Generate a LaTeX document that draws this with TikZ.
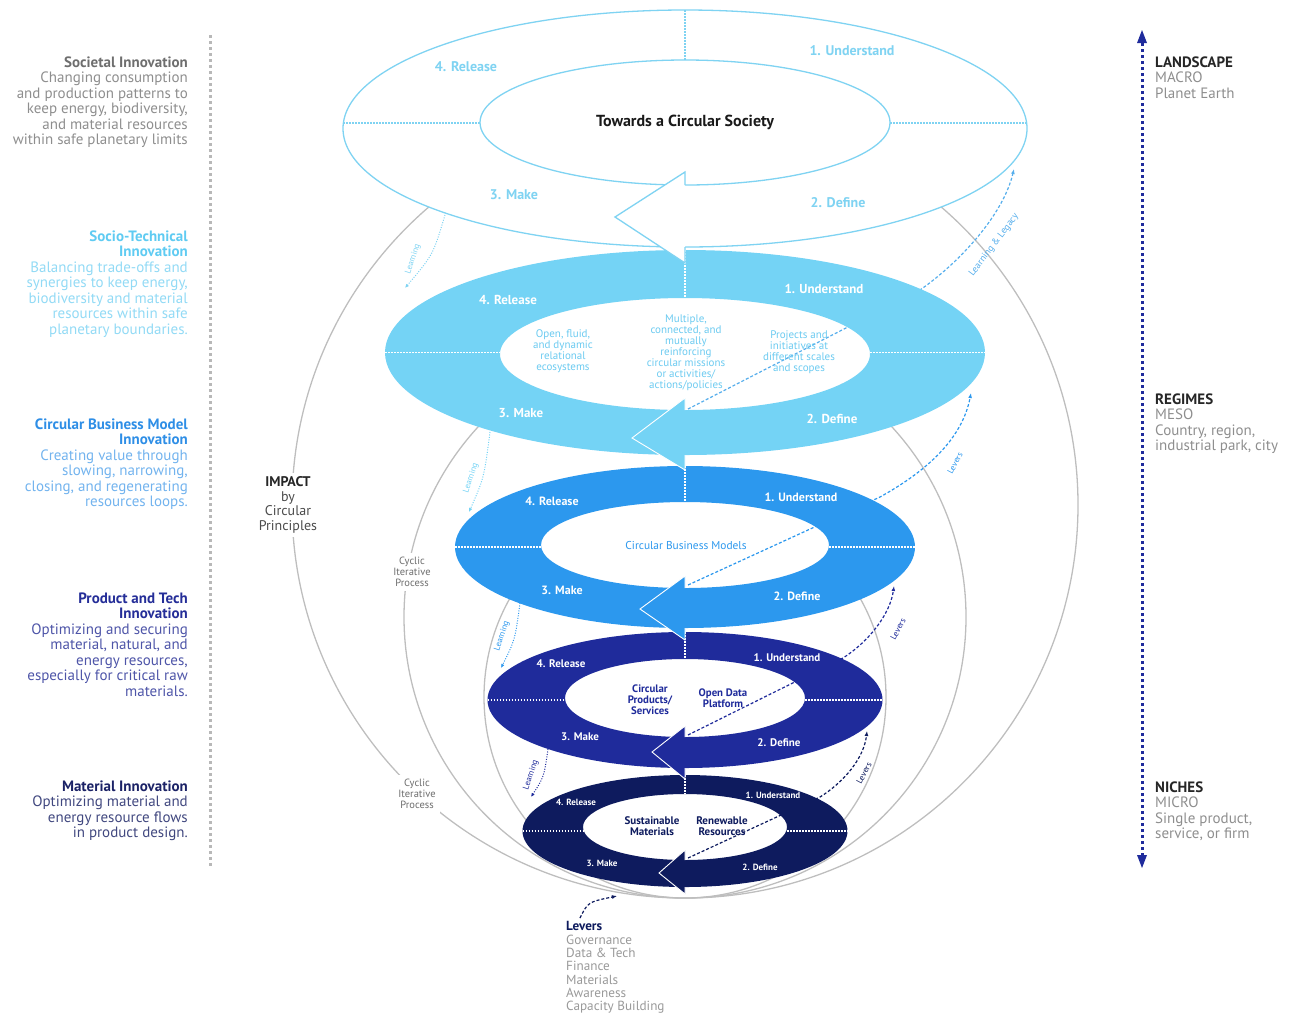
\documentclass[tikz,border=0pt]{standalone}
\usepackage{fontspec}
\setmainfont{PT Sans}
\usetikzlibrary{arrows.meta, positioning, calc}
\definecolor{ringA}{HTML}{7FD3F2}
\definecolor{ringB}{HTML}{74D3F5}
\definecolor{ringC}{HTML}{2C98EE}
\definecolor{ringD}{HTML}{1F2B9B}
\definecolor{ringE}{HTML}{0E1B5E}
\definecolor{holeB}{HTML}{6CCBF1}
\definecolor{lvrB}{HTML}{56AEEC}
\definecolor{arcgray}{HTML}{BEBEBE}
\definecolor{dotgray}{HTML}{B8B8B8}
\definecolor{headgray}{HTML}{6E6E6E}
\definecolor{bodygray}{HTML}{8E8E8E}
\definecolor{techhead}{HTML}{5FCBF2}
\definecolor{techbody}{HTML}{92DAF5}
\definecolor{cbmhead}{HTML}{2E8EE6}
\definecolor{cbmbody}{HTML}{72B3EE}
\definecolor{prodhead}{HTML}{252E98}
\definecolor{prodbody}{HTML}{4E55A8}
\definecolor{mathead}{HTML}{1B2266}
\definecolor{matbody}{HTML}{41487F}
\definecolor{axisnavy}{HTML}{1F2B9C}
\newcommand{\fsz}[2]{\fontsize{#1}{#2}\selectfont}

\begin{document}
\begin{tikzpicture}[x=1pt, y=-1pt,
    arcline/.style={arcgray, line width=1.3pt},
    gaplbl/.style={fill=white, inner sep=4pt, align=center, text=headgray, font=\fsz{10.5}{11}},
    sidetxt/.style={inner sep=0pt, align=right, anchor=north east, font=\fsz{15}{15.5}},
    scaletxt/.style={inner sep=0pt, align=left, anchor=north west, font=\fsz{15}{15.5}, text=bodygray},
    ringlbl/.style={font=\bfseries\fsz{#1}{#1}, text=white, inner sep=0pt},
    holelbl/.style={align=center, inner sep=0pt},
    sepline/.style={white, line width=1.5pt, dash pattern=on 1.5pt off 1.5pt},
    lrnarrow/.style={line width=1pt, dash pattern=on 1pt off 1.5pt, -{Latex[length=4pt, width=3.5pt]}},
    lvrarrow/.style={line width=1.2pt, dash pattern=on 3pt off 2pt, -{Latex[length=5pt, width=4pt]}},
    tinylbl/.style={font=\fsz{8.5}{8.5}, inner sep=0pt}]
  \useasboundingbox (0,0) rectangle (1289,1013);

  % nested grey circles, all touching at the bottom
  \draw[arcline] (685,505) circle [radius=393];
  \draw[arcline] (685,617) circle [radius=281];
  \draw[arcline] (685,697) circle [radius=201];
  \node[gaplbl, font=\fsz{14}{14.7}, text=black!70] (impact) at (288,505)
    {\textbf{\color{black!85}IMPACT}\\by\\Circular\\Principles};
  \node[gaplbl] (cycup) at (412,572) {Cyclic\\Iterative\\Process};
  \node[gaplbl] (cyclow) at (417,794) {Cyclic\\Iterative\\Process};

  % clear the top ellipse and the holes
  \fill[white] (685,128.5) ellipse [x radius=342, y radius=118.5];
  \foreach \ci/\ai/\bi in {354/185/56, 545/144/43, 698/120/39, 827/102/33}
    \fill[white] (685,\ci) ellipse [x radius=\ai, y radius=\bi];

  % levers: from each notch out to the level above
  \coordinate (nB) at (688,409); \coordinate (xB) at (920,290); \coordinate (tA) at (1014,169);
  \coordinate (nC) at (688,585); \coordinate (xC) at (880,497); \coordinate (tB) at (971,393);
  \coordinate (nD) at (688,735); \coordinate (xD) at (843,658); \coordinate (tC) at (894,586);
  \coordinate (nE) at (688,858); \coordinate (xE) at (820,797); \coordinate (tD) at (867,731);
  \draw[lvrarrow, lvrB] (nB) -- (xB) .. controls (960,262) and (1003,215) .. (tA);
  \draw[lvrarrow, ringC] (nC) -- (xC) .. controls (925,472) and (962,440) .. (tB);
  \draw[lvrarrow, ringD] (nD) -- (xD) .. controls (868,642) and (890,615) .. (tC);
  \draw[lvrarrow, ringE] (nE) -- (xE) .. controls (844,782) and (864,758) .. (tD);
  \node[tinylbl, font=\fsz{9.5}{9.5}, text=lvrB, rotate=53] (legacy) at (994,245) {Learning \& Legacy};
  \node[tinylbl, text=ringC, rotate=62] (lvC) at (955,463) {Levers};
  \node[tinylbl, text=ringD, rotate=62] (lvD) at (898,629) {Levers};
  \node[tinylbl, text=ringE, rotate=62] (lvE) at (864,773) {Levers};

  % learning: from each level down to the next
  \coordinate (lA0) at (445,215); \coordinate (lA1) at (405,288);
  \coordinate (lB0) at (490,432); \coordinate (lB1) at (469,512);
  \coordinate (lC0) at (520,603); \coordinate (lC1) at (501,668);
  \coordinate (lD0) at (548,749); \coordinate (lD1) at (531,797);
  \draw[lrnarrow, ringA] (lA0) .. controls (433,255) .. (lA1);
  \draw[lrnarrow, ringB] (lB0) .. controls (484,478) .. (lB1);
  \draw[lrnarrow, ringC] (lC0) .. controls (515,640) .. (lC1);
  \draw[lrnarrow, ringD] (lD0) .. controls (544,777) .. (lD1);
  \node[tinylbl, text=ringA, rotate=72] (lrnA) at (413,259) {Learning};
  \node[tinylbl, text=ringB, rotate=72] (lrnB) at (471,478) {Learning};
  \node[tinylbl, text=ringC, rotate=72] (lrnC) at (502,636) {Learning};
  \node[tinylbl, text=ringD, rotate=72] (lrnD) at (531,775) {Learning};

  % societal level, outline only
  \draw[ringA, line width=1.3pt] (685,128.5) ellipse [x radius=342, y radius=118.5];
  \draw[ringA, line width=1.3pt] (685,122.5) ellipse [x radius=205, y radius=62.5];
  \draw[ringA, line width=1.2pt, dash pattern=on 1.5pt off 1.5pt]
    (685,10) -- (685,60) (343,123) -- (480,123) (890,123) -- (1027,123);

  % filled rings
  \foreach \col/\co/\ao/\bo/\ci/\ai/\bi in {ringB/352.5/300/102.5/354/185/56,
      ringC/547/230/81/545/144/43, ringD/700/197.5/68/698/120/39, ringE/831/162.5/56/827/102/33}{
    \fill[\col, even odd rule] (685,\co) ellipse [x radius=\ao, y radius=\bo]
      (685,\ci) ellipse [x radius=\ai, y radius=\bi];
    \draw[sepline] (685,\co-\bo) -- (685,\ci-\bi);
    \draw[sepline] (685-\ao,\co) -- (685-\ai,\co) (685+\ai,\co) -- (685+\ao,\co);
  }

  % arrow heads
  \fill[white] (685,172) -- (615,217) -- (685,263) -- cycle;
  \draw[ringA, line width=1.3pt, line join=miter] (685,185) -- (685,172) -- (615,217) -- (685,263) -- (685,247);
  \foreach \col/\ib/\ob/\ht/\hb/\tx/\ty in {ringB/410/455/398/470/632/438,
      ringC/588/628/576/640/640/609, ringD/737/768/726/779/652/752, ringE/860/887/850/894/659/873}{
    \fill[\col] (685,\ht) -- (\tx,\ty) -- (685,\hb) -- cycle;
    \draw[white, line width=0.9pt] (685,\ib) -- (685,\ht) -- (\tx,\ty) -- (685,\hb) -- (685,\ob);
  }

  % ring labels
  \node[ringlbl=14, text=ringA] (relA) at (466,67) {4. Release};
  \node[ringlbl=14, text=ringA] (undA) at (852,51) {1. Understand};
  \node[ringlbl=14, text=ringA] (mkA) at (514,195) {3. Make};
  \node[ringlbl=14, text=ringA] (defA) at (838,203) {2. Define};
  \node[ringlbl=13] (relB) at (508,300) {4. Release};
  \node[ringlbl=13] (undB) at (824,289) {1. Understand};
  \node[ringlbl=13] (mkB) at (521,413) {3. Make};
  \node[ringlbl=13] (defB) at (832,419) {2. Define};
  \node[ringlbl=12] (relC) at (552,501) {4. Release};
  \node[ringlbl=12] (undC) at (801,497) {1. Understand};
  \node[ringlbl=12] (mkC) at (562,590) {3. Make};
  \node[ringlbl=12] (defC) at (797,596) {2. Define};
  \node[ringlbl=11] (relD) at (561,664) {4. Release};
  \node[ringlbl=11] (undD) at (787,658) {1. Understand};
  \node[ringlbl=11] (mkD) at (580,737) {3. Make};
  \node[ringlbl=11] (defD) at (779,743) {2. Define};
  \node[ringlbl=9] (relE) at (576,802) {4. Release};
  \node[ringlbl=9] (undE) at (773,795) {1. Understand};
  \node[ringlbl=9] (mkE) at (602,863) {3. Make};
  \node[ringlbl=9] (defE) at (760,867) {2. Define};

  % texts in the holes
  \node[holelbl, font=\bfseries\fsz{16}{16}, text=black!90] (society) at (685,122) {Towards a Circular Society};
  \node[holelbl, font=\fsz{11}{11}, text=holeB] (ecosys) at (563,351.5)
    {Open, fluid,\\and dynamic\\relational\\ecosystems};
  \node[holelbl, font=\fsz{11}{11}, text=holeB] (missions) at (686,353)
    {Multiple,\\connected, and\\mutually\\reinforcing\\circular missions\\or activities/\\actions/policies};
  \node[holelbl, font=\fsz{11}{11}, text=holeB] (projects) at (799,352.5)
    {Projects and\\initiatives at\\different scales\\and scopes};
  \node[holelbl, font=\fsz{11.4}{12}, text=ringC] (cbm) at (686,545) {Circular Business Models};
  \node[holelbl, font=\bfseries\fsz{10.8}{11}, text=ringD] (products) at (650,700) {Circular\\Products/\\Services};
  \node[holelbl, font=\bfseries\fsz{10.8}{11}, text=ringD] (opendata) at (723,698) {Open Data\\Platform};
  \node[holelbl, font=\bfseries\fsz{11}{11}, text=ringE] (sustain) at (652,826) {Sustainable\\Materials};
  \node[holelbl, font=\bfseries\fsz{11}{11}, text=ringE] (renew) at (722,826) {Renewable\\Resources};

  % left column
  \draw[dotgray, line width=3pt, dash pattern=on 3pt off 3pt] (210,35) -- (210,868);
  \node[sidetxt, text=bodygray] (societal) at (188,56.5)
    {\textcolor{headgray}{\textbf{Societal Innovation}}\\Changing consumption\\and production patterns to\\keep energy, biodiversity,\\and material resources\\within safe planetary limits};
  \node[sidetxt, text=techbody] (sociotech) at (188,230.5)
    {\textcolor{techhead}{\textbf{Socio-Technical}}\\\textcolor{techhead}{\textbf{Innovation}}\\Balancing trade-offs and\\synergies to keep energy,\\biodiversity and material\\resources within safe\\planetary boundaries.};
  \node[sidetxt, text=cbmbody] (cbminno) at (188,418.5)
    {\textcolor{cbmhead}{\textbf{Circular Business Model}}\\\textcolor{cbmhead}{\textbf{Innovation}}\\Creating value through\\slowing, narrowing,\\closing, and regenerating\\resources loops.};
  \node[sidetxt, text=prodbody] (prodinno) at (188,592.5)
    {\textcolor{prodhead}{\textbf{Product and Tech}}\\\textcolor{prodhead}{\textbf{Innovation}}\\Optimizing and securing\\material, natural, and\\energy resources,\\especially for critical raw\\materials.};
  \node[sidetxt, text=matbody] (matinno) at (188,780.5)
    {\textcolor{mathead}{\textbf{Material Innovation}}\\Optimizing material and\\energy resource flows\\in product design.};

  % right scale
  \coordinate (axT) at (1142,42); \coordinate (axB) at (1142,856);
  \draw[axisnavy, line width=3pt, dash pattern=on 3pt off 3pt] (axB) -- (axT);
  \fill[axisnavy] (1142,30) -- (1137,43) -- (1147,43) -- cycle;
  \fill[axisnavy] (1142,868) -- (1137,855) -- (1147,855) -- cycle;
  \node[scaletxt] (landscape) at (1155,56.5)
    {\textcolor{black!85}{\textbf{LANDSCAPE}}\\MACRO\\Planet Earth};
  \node[scaletxt] (regimes) at (1155,393.5)
    {\textcolor{black!85}{\textbf{REGIMES}}\\MESO\\Country, region,\\industrial park, city};
  \node[scaletxt] (niches) at (1155,781.5)
    {\textcolor{black!85}{\textbf{NICHES}}\\MICRO\\Single product,\\service, or firm};

  % levers list
  \coordinate (lv0) at (580,918); \coordinate (lv1) at (617,896);
  \draw[lvrarrow, ringE] (lv0) .. controls (588,902) .. (lv1);
  \node[scaletxt, font=\fsz{13.2}{13.3}, text=black!40] (levers) at (566,921.5)
    {\textcolor{ringE}{\textbf{Levers}}\\Governance\\Data \& Tech\\Finance\\Materials\\Awareness\\Capacity Building};
\end{tikzpicture}
\end{document}
